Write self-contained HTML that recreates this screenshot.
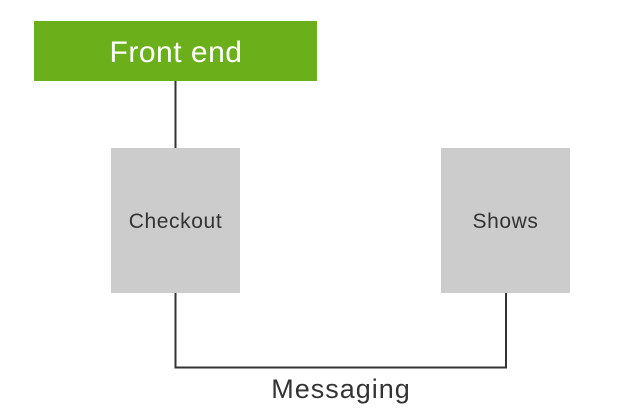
<!DOCTYPE html>
<html><head><style>
html,body{margin:0;padding:0;background:#fff;}
</style></head><body>
<svg width="621" height="420" xmlns="http://www.w3.org/2000/svg" style="display:block">
<rect width="621" height="420" fill="#fff"/>
<rect x="34" y="21" width="283" height="60" fill="#6bb01a"/>
<text x="176" y="62" text-anchor="middle" font-family="Liberation Sans, sans-serif" font-size="30" fill="#fff" letter-spacing="0.5">Front end</text>
<line x1="175.5" y1="81" x2="175.5" y2="148" stroke="#333" stroke-width="2"/>
<rect x="111" y="148" width="129" height="145" fill="#cccccc"/>
<rect x="441" y="148" width="129" height="145" fill="#cccccc"/>
<text x="175.5" y="228" text-anchor="middle" font-family="Liberation Sans, sans-serif" font-size="21" fill="#333" letter-spacing="0.6">Checkout</text>
<text x="505.5" y="228" text-anchor="middle" font-family="Liberation Sans, sans-serif" font-size="21" fill="#333" letter-spacing="0.6">Shows</text>
<polyline points="175.5,293 175.5,367.5 506,367.5 506,293" fill="none" stroke="#333" stroke-width="2"/>
<text x="341" y="398" text-anchor="middle" font-family="Liberation Sans, sans-serif" font-size="27" fill="#333" letter-spacing="1">Messaging</text>
</svg>
</body></html>
